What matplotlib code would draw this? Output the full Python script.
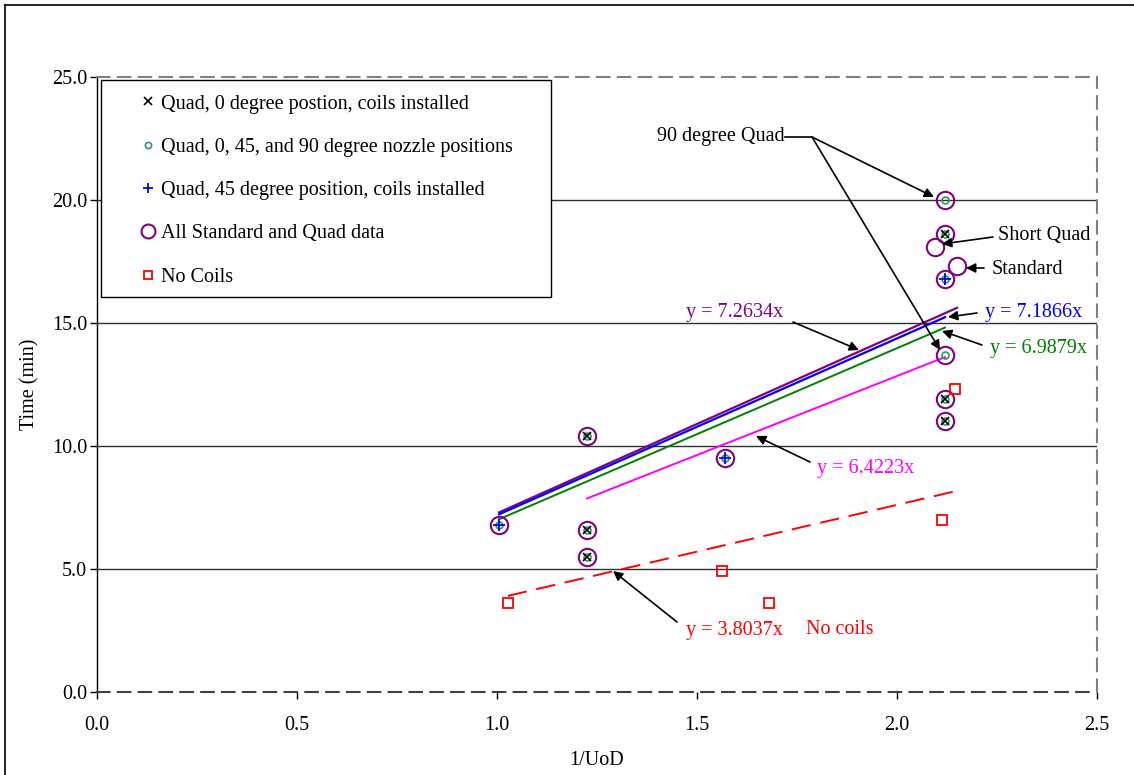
import matplotlib
matplotlib.use("Agg")
import matplotlib.pyplot as plt
from matplotlib.lines import Line2D
from matplotlib.patches import Rectangle
import numpy as np

plt.rcParams['font.family'] = ['Liberation Serif', 'DejaVu Serif']

# ---- data ----
x_quad0 = [1.225, 1.225, 1.225, 2.12, 2.12, 2.12]
y_quad0 = [10.4, 6.6, 5.5, 18.6, 11.9, 11.0]

x_quadall = [1.005, 1.225, 1.225, 1.225, 1.57, 2.12, 2.12, 2.12, 2.12, 2.12, 2.12]
y_quadall = [6.8, 10.4, 6.6, 5.5, 9.5, 20.0, 18.6, 16.8, 13.7, 11.9, 11.0]

x_quad45 = [1.005, 1.57, 2.12]
y_quad45 = [6.8, 9.5, 16.8]

x_all = x_quadall + [2.095, 2.15]
y_all = y_quadall + [18.1, 17.3]

x_nocoils = [1.027, 1.563, 1.68, 2.112, 2.145]
y_nocoils = [3.6, 4.9, 3.6, 7.0, 12.3]

slope_all = 7.2634
slope_q45 = 7.1866
slope_qall = 6.9879
slope_q0 = 6.4223
slope_nc = 3.8037

legend_labels = ["Quad, 0 degree postion, coils installed",
                 "Quad, 0, 45, and 90 degree nozzle positions",
                 "Quad, 45 degree position, coils installed",
                 "All Standard and Quad data",
                 "No Coils"]

W, H = 1134, 775
fs = 14.5
fig = plt.figure(figsize=(W / 100, H / 100), dpi=100)
fig.patch.set_facecolor('white')
ax = fig.add_axes([97 / W, 1 - 692 / H, 1000 / W, 615 / H])

# outer frame
fig.add_artist(Line2D([5 / W, 5 / W], [1 - 5 / H, -0.01], transform=fig.transFigure, color='black', lw=1.2))
fig.add_artist(Line2D([5 / W, 1.01], [1 - 5 / H, 1 - 5 / H], transform=fig.transFigure, color='black', lw=1.2))

ax.set_xlim(0, 2.5)
ax.set_ylim(0, 25)
for yv in [5, 10, 15, 20]:
    ax.axhline(yv, color='#303030', lw=1.0, zorder=1)

purple = '#800080'
blue = '#0000ff'
green = '#008000'
magenta = '#ff00ff'
red = '#ff0000'
mgreen = '#2e9960'

# trend lines
def trend(xs, s, **kw):
    xr = np.array([min(xs), max(xs)])
    ax.plot(xr, s * xr, **kw)

trend(x_all, slope_all, color=purple, lw=1.6, zorder=3)
trend(x_quad45, slope_q45, color=blue, lw=1.6, zorder=3)
trend(x_quadall, slope_qall, color=green, lw=1.4, zorder=3)
trend(x_quad0, slope_q0, color=magenta, lw=1.4, zorder=3)
trend(x_nocoils, slope_nc, color=red, lw=1.4, ls=(0, (10, 5)), zorder=3)

# markers
h_all, = ax.plot(x_all, y_all, 'o', ms=12.5, mfc='none', mec=purple, mew=1.5, ls='none', zorder=4)
h_qall, = ax.plot(x_quadall, y_quadall, 'o', ms=5, mfc='none', mec=mgreen, mew=1.2, ls='none', zorder=5)
h_q0, = ax.plot(x_quad0, y_quad0, 'x', ms=6, mec='black', mew=1.2, ls='none', zorder=6)
h_q45, = ax.plot(x_quad45, y_quad45, '+', ms=8, mec=blue, mew=1.3, ls='none', zorder=6)
h_nc, = ax.plot(x_nocoils, y_nocoils, 's', ms=7, mfc='none', mec=red, mew=1.3, ls='none', zorder=5)

# ticks
ax.set_xticks(np.arange(0, 2.51, 0.5))
ax.set_yticks(np.arange(0, 25.1, 5))
ax.set_xticklabels([f"{v:.1f}" for v in np.arange(0, 2.51, 0.5)])
ax.set_yticklabels([f"{v:.1f}" for v in np.arange(0, 25.1, 5)])
ax.tick_params(direction='out', length=5, width=1, labelsize=fs, colors='black')
ax.tick_params(axis='x', pad=12)
ax.tick_params(axis='y', pad=2)
ax.set_xlabel("1/UoD", fontsize=fs, labelpad=12)
ax.set_ylabel("Time (min)", fontsize=fs, labelpad=9)

for side in ['top', 'right']:
    ax.spines[side].set_color('#808080')
    ax.spines[side].set_linestyle((0, (6, 4)))
    ax.spines[side].set_linewidth(1.5)
ax.spines['bottom'].set_color('#404040')
ax.spines['bottom'].set_linestyle((0, (6, 4)))
ax.spines['bottom'].set_linewidth(1.5)
ax.spines['left'].set_color('black')
ax.spines['left'].set_linewidth(1.0)

# legend box
ax.add_patch(Rectangle((0.004, 0.642), 0.450, 0.353, transform=ax.transAxes,
                       facecolor='white', edgecolor='black', lw=1.0, zorder=7))
leg = ax.legend([h_q0, h_qall, h_q45, h_all, h_nc], legend_labels,
                loc='upper left', bbox_to_anchor=(0.031, 0.988), frameon=False,
                fontsize=fs, labelspacing=1.2, handlelength=1.0, handletextpad=0.15,
                borderpad=0.0, markerscale=0.9)
leg.set_zorder(8)
leg.legend_handles[3].set_markersize(10)

# annotations
def px(xp, yp):
    return ((xp - 97) / 400.0, (692 - yp) / 24.6)

arrow = dict(arrowstyle='-|>', color='black', lw=1.2, mutation_scale=14, shrinkA=0, shrinkB=0)

ax.text(*px(657, 137), "90 degree Quad", fontsize=fs, ha='left', va='center', zorder=9)
ax.plot(*zip(px(785, 137), px(812, 137)), color='black', lw=1.2, zorder=9)
ax.annotate("", xy=px(934, 197), xytext=px(812, 137), arrowprops=arrow, zorder=9)
ax.annotate("", xy=px(940, 350), xytext=px(812, 137), arrowprops=arrow, zorder=9)

ax.text(*px(998, 235), "Short Quad", fontsize=fs, ha='left', va='center', zorder=9)
ax.annotate("", xy=px(942, 244), xytext=px(993, 237), arrowprops=arrow, zorder=9)

ax.text(*px(992, 269), "Standard", fontsize=fs, ha='left', va='center', zorder=9)
ax.annotate("", xy=px(966, 268), xytext=px(984, 268), arrowprops=arrow, zorder=9)

ax.text(*px(686, 313), "y = 7.2634x", fontsize=fs, color=purple, ha='left', va='center', zorder=9)
ax.annotate("", xy=px(859, 350), xytext=px(793, 322), arrowprops=arrow, zorder=9)

ax.text(*px(985, 312), "y = 7.1866x", fontsize=fs, color=blue, ha='left', va='center', zorder=9)
ax.annotate("", xy=px(948, 317), xytext=px(977, 313), arrowprops=arrow, zorder=9)

ax.text(*px(990, 349), "y = 6.9879x", fontsize=fs, color=green, ha='left', va='center', zorder=9)
ax.annotate("", xy=px(942, 331), xytext=px(982, 345), arrowprops=arrow, zorder=9)

ax.text(*px(817, 468), "y = 6.4223x", fontsize=fs, color=magenta, ha='left', va='center', zorder=9)
ax.annotate("", xy=px(756, 436), xytext=px(810, 462), arrowprops=arrow, zorder=9)

ax.text(*px(686, 630), "y = 3.8037x", fontsize=fs, color=red, ha='left', va='center', zorder=9)
ax.annotate("", xy=px(613, 571), xytext=px(677, 622), arrowprops=arrow, zorder=9)

ax.text(*px(806, 630), "No coils", fontsize=fs, color=red, ha='left', va='center', zorder=9)

fig.savefig("out.png", dpi=100, facecolor='white')
